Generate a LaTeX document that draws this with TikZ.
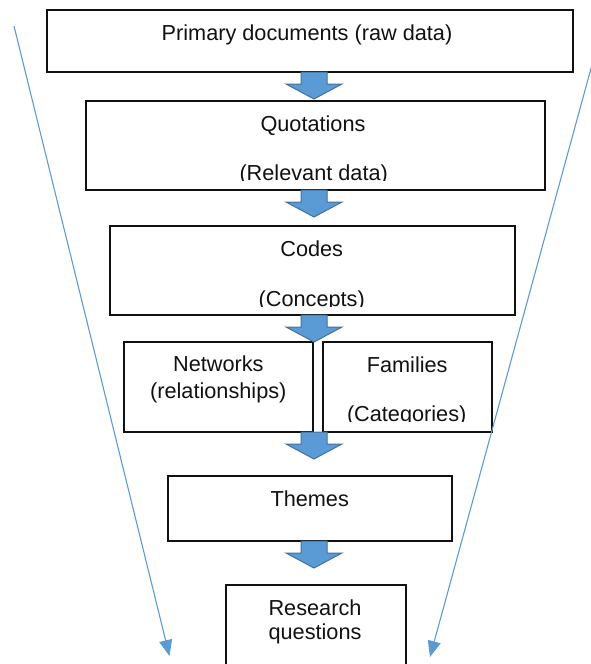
\documentclass[tikz,border=0pt]{standalone}
\usepackage{fontspec}
\setmainfont{Liberation Sans}
\usetikzlibrary{arrows.meta,fit}
\definecolor{arrowfill}{HTML}{5B9BD5}
\definecolor{arrowline}{HTML}{41719C}
\definecolor{funnelblue}{HTML}{5B9BD5}
\definecolor{inkblack}{HTML}{111111}

% block arrow hanging below the south side of a box, centred on the x of (ax)
\newcommand\flowarrow[1]{%
  \draw[blockarrow] (ax |- #1.south) ++(-13,0) -- ++(0,12) -- ++(-15,0)
    -- ++(28,15) -- ++(28,-15) -- ++(-15,0) -- ++(0,-12) -- cycle;}

\begin{document}
\begin{tikzpicture}[x=1pt,y=-1pt,
  box/.style={draw=inkblack, line width=1.2pt, inner sep=0pt, outer sep=0pt, rectangle},
  txt/.style={anchor=base, inner sep=0pt, text=inkblack, font=\fontsize{21.7}{26}\selectfont},
  blockarrow/.style={fill=arrowfill, draw=arrowline, line width=1pt, line join=miter},
  funnel/.style={draw=funnelblue, line width=1.1pt, -{Triangle[length=16pt,width=13pt]}}]

\clip (0,0) rectangle (591,664);

% boxes of the funnel
\node[box, fit={(47,10) (573,72)}] (b1) {};
\node[box, fit={(86,101) (545,190)}] (b2) {};
\node[box, fit={(110,226) (515,315)}] (b3) {};
\node[box, fit={(124,342) (313,432)}] (b4a) {};
\node[box, fit={(323,342) (492,432)}] (b4b) {};
\node[box, fit={(168,476) (452,541)}] (b5) {};
\node[box, fit={(226,585) (406,690)}] (b6) {};

% labels
\node[txt] (t1) at (307,40) {Primary documents (raw data)};
\node[txt] (t2) at (313,131.7) {Quotations};
\begin{scope}
  \clip (86,101) rectangle (545,180);
  \node[txt] (t2b) at (313.7,180.5) {(Relevant data)};
\end{scope}
\node[txt] (t3) at (311.7,256.7) {Codes};
\begin{scope}
  \clip (110,226) rectangle (515,306);
  \node[txt] (t3b) at (311.7,306.5) {(Concepts)};
\end{scope}
\node[txt] (t4a) at (218.3,371.7) {Networks};
\node[txt] (t4ab) at (218.3,398) {(relationships)};
\node[txt] (t4b) at (407.2,372) {Families};
\begin{scope}
  \clip (323,342) rectangle (492,421.5);
  \node[txt] (t4bb) at (406.7,421) {(Categories)};
\end{scope}
\node[txt] (t5) at (309.7,506) {Themes};
\node[txt] (t6) at (315,615.7) {Research};
\node[txt] (t6b) at (315,639.5) {questions};

% block arrows between the levels
\coordinate (ax) at (314,0);
\flowarrow{b1}
\flowarrow{b2}
\flowarrow{b3}
\flowarrow{b4a}
\flowarrow{b5}

% converging side lines
\coordinate (l0) at (14,26);
\coordinate (l1) at (169.5,656);
\coordinate (r0) at (593.3,60);
\coordinate (r1) at (430,657);
\draw[funnel] (l0) -- (l1);
\draw[funnel] (r0) -- (r1);
\end{tikzpicture}
\end{document}
